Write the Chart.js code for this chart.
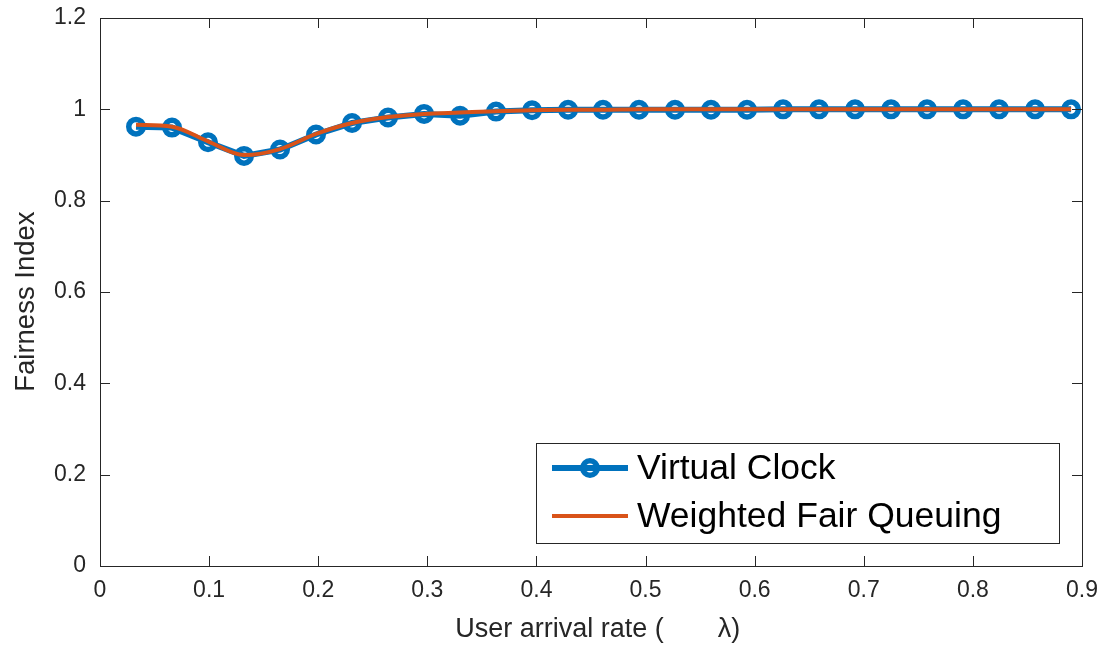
<!DOCTYPE html>
<html>
<head>
<meta charset="utf-8">
<script src="https://cdn.jsdelivr.net/npm/chart.js@4/dist/chart.umd.min.js"></script>
<style>
html,body{margin:0;padding:0;background:#fff;}
#wrap{width:1101px;height:646px;}
</style>
</head>
<body>
<div id="wrap"><canvas id="c" width="1101" height="646"></canvas></div>
<script>
const arrivalRates = [0.033,0.066,0.099,0.132,0.165,0.198,0.231,0.264,0.297,0.330,0.363,0.396,0.429,0.461,0.494,0.527,0.560,0.593,0.626,0.659,0.692,0.725,0.758,0.791,0.824,0.857,0.890];
const virtualClock = [0.962,0.960,0.928,0.898,0.912,0.945,0.970,0.982,0.990,0.986,0.995,0.998,0.999,0.999,0.999,0.999,0.999,0.999,1.000,1.000,1.000,1.000,1.000,1.000,1.000,1.000,1.000];
const weightedFairQueuing = [0.966,0.962,0.930,0.900,0.913,0.946,0.970,0.983,0.990,0.993,0.996,0.998,0.999,0.999,1.000,1.000,1.000,1.000,1.000,1.000,1.000,1.000,1.000,1.000,1.000,1.000,1.000];
const xTicks = [0,0.1,0.2,0.3,0.4,0.5,0.6,0.7,0.8,0.9];
const yTicks = [0,0.2,0.4,0.6,0.8,1,1.2];
const seriesNames = ['Virtual Clock','Weighted Fair Queuing'];

const BLUE = '#0072BD', ORANGE = '#D95319', AX = '#262626';
const FONT = '"Liberation Sans", Arial, Helvetica, sans-serif';

const boxPlugin = {
  id: 'boxPlugin',
  afterDraw(chart) {
    const ctx = chart.ctx, a = chart.chartArea;
    const xs = chart.scales.x, ys = chart.scales.y;
    ctx.save();
    ctx.strokeStyle = AX;
    ctx.lineWidth = 1;
    ctx.strokeRect(Math.round(a.left)+0.5, Math.round(a.top)+0.5, Math.round(a.right-a.left), Math.round(a.bottom-a.top));
    const L = 10;
    ctx.beginPath();
    xTicks.forEach(v => {
      const px = Math.round(xs.getPixelForValue(v)) + 0.5;
      ctx.moveTo(px, a.bottom); ctx.lineTo(px, a.bottom - L);
      ctx.moveTo(px, a.top); ctx.lineTo(px, a.top + L);
    });
    yTicks.forEach(v => {
      const py = Math.round(ys.getPixelForValue(v)) + 0.5;
      ctx.moveTo(a.left, py); ctx.lineTo(a.left + L, py);
      ctx.moveTo(a.right, py); ctx.lineTo(a.right - L, py);
    });
    ctx.stroke();

    // legend box
    const lx = 536.5, ly = 443.5, lw = 523, lh = 100;
    ctx.fillStyle = '#fff';
    ctx.fillRect(lx, ly, lw, lh);
    ctx.strokeStyle = AX;
    ctx.lineWidth = 1;
    ctx.strokeRect(lx, ly, lw, lh);
    const rows = [468, 516];
    ctx.strokeStyle = BLUE; ctx.lineWidth = 6;
    ctx.beginPath(); ctx.moveTo(552, rows[0]); ctx.lineTo(628, rows[0]); ctx.stroke();
    ctx.lineWidth = 5.5;
    ctx.beginPath(); ctx.arc(590, rows[0], 7.25, 0, Math.PI*2); ctx.stroke();
    ctx.strokeStyle = ORANGE; ctx.lineWidth = 4;
    ctx.beginPath(); ctx.moveTo(552, rows[1]); ctx.lineTo(628, rows[1]); ctx.stroke();
    ctx.fillStyle = '#000';
    ctx.font = '35.5px ' + FONT;
    ctx.textBaseline = 'middle';
    ctx.textAlign = 'left';
    ctx.fillText(seriesNames[0], 637, rows[0] + 1);
    ctx.fillText(seriesNames[1], 637, rows[1] + 1);
    ctx.restore();
  }
};

new Chart(document.getElementById('c'), {
  type: 'line',
  data: {
    datasets: [
      {
        label: seriesNames[1],
        data: arrivalRates.map((x,i)=>({x, y: weightedFairQueuing[i]})),
        borderColor: ORANGE, borderWidth: 4, pointRadius: 0, fill: false,
        cubicInterpolationMode: 'monotone', order: 0
      },
      {
        label: seriesNames[0],
        data: arrivalRates.map((x,i)=>({x, y: virtualClock[i]})),
        borderColor: BLUE, borderWidth: 6, pointRadius: 7.25, pointBorderWidth: 5.5,
        pointBorderColor: BLUE, pointBackgroundColor: 'rgba(0,0,0,0)', fill: false,
        tension: 0, order: 1
      }
    ]
  },
  options: {
    responsive: false,
    animation: false,
    events: [],
    layout: { padding: { top: 18, right: 19, left: 0, bottom: 0 } },
    plugins: { legend: { display: false }, tooltip: { enabled: false } },
    scales: {
      x: {
        type: 'linear', min: 0, max: 0.9,
        afterBuildTicks: s => { s.ticks = xTicks.map(v => ({value: v})); },
        afterFit: s => { s.height = 80; s.paddingLeft = 0; s.paddingRight = 0; },
        grid: { display: false, drawTicks: false },
        border: { display: false },
        ticks: { color: AX, font: { size: 23, family: FONT }, padding: 11, maxRotation: 0,
                 callback: v => String(+v.toFixed(1)) },
        title: { display: true, text: '\u2002User arrival rate (\u2003\u2003\u03bb)', color: AX,
                 font: { size: 27, family: FONT }, padding: { top: 2, bottom: 0 } }
      },
      y: {
        type: 'linear', min: 0, max: 1.2,
        afterBuildTicks: s => { s.ticks = yTicks.map(v => ({value: v})); },
        afterFit: s => { s.width = 100; s.paddingTop = 0; s.paddingBottom = 0; },
        grid: { display: false, drawTicks: false },
        border: { display: false },
        ticks: { color: AX, font: { size: 23, family: FONT }, padding: 14,
                 callback: v => String(+v.toFixed(1)) },
        title: { display: true, text: 'Fairness Index\u2002\u2009', color: AX,
                 font: { size: 27.5, family: FONT }, padding: { top: 10, bottom: 0 } }
      }
    }
  },
  plugins: [boxPlugin]
});
</script>
</body>
</html>
